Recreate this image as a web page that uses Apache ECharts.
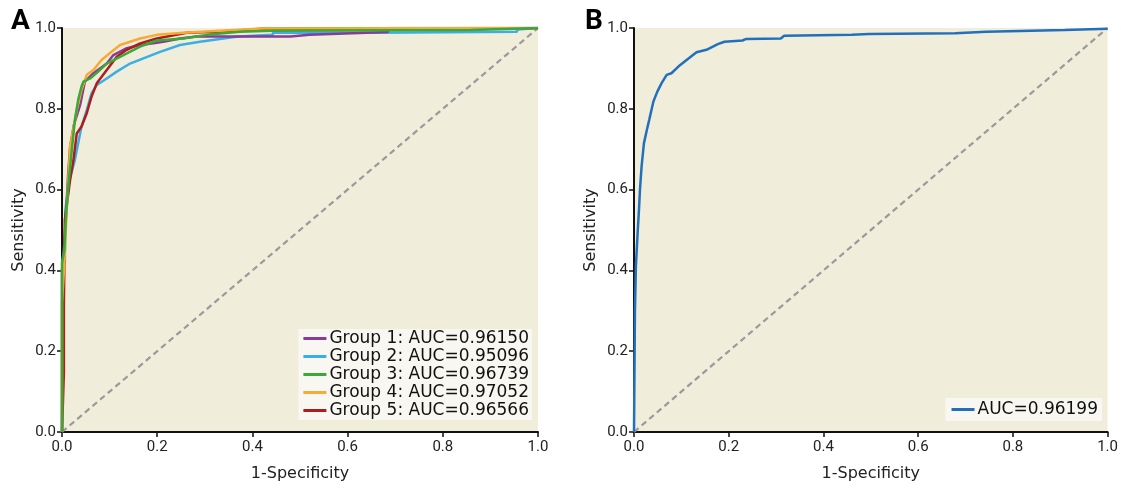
<!DOCTYPE html>
<html>
<head>
<meta charset="utf-8">
<script src="https://cdn.jsdelivr.net/npm/echarts@6/dist/echarts.min.js"></script>
<style>
  html, body { margin: 0; padding: 0; background: #fff; }
  #chart { width: 1121px; height: 488px; }
</style>
</head>
<body>
<div id="chart"></div>
<script>
// ROC points: [1-specificity, sensitivity]
var groupNames = ['Group 1: AUC=0.96150', 'Group 2: AUC=0.95096', 'Group 3: AUC=0.96739', 'Group 4: AUC=0.97052', 'Group 5: AUC=0.96566']
var totalName = 'AUC=0.96199'
var tickLabels = ['0.0', '0.2', '0.4', '0.6', '0.8', '1.0']

var group1 = [[0, 0], [0, 0.40], [0.005, 0.47], [0.009, 0.55], [0.013, 0.64], [0.017, 0.706], [0.025, 0.76], [0.038, 0.809], [0.048, 0.867], [0.066, 0.888], [0.094, 0.912], [0.108, 0.933], [0.136, 0.95], [0.164, 0.958], [0.192, 0.962], [0.213, 0.966], [0.248, 0.974], [0.283, 0.979], [0.48, 0.979], [0.48, 0.983], [0.52, 0.983], [0.52, 0.987], [0.685, 0.99], [0.685, 1], [1, 1]]
var group2 = [[0, 0], [0.002, 0.40], [0.006, 0.42], [0.007, 0.55], [0.015, 0.62], [0.027, 0.673], [0.034, 0.715], [0.041, 0.756], [0.052, 0.797], [0.062, 0.838], [0.073, 0.859], [0.094, 0.875], [0.115, 0.892], [0.143, 0.912], [0.171, 0.925], [0.206, 0.941], [0.248, 0.958], [0.29, 0.966], [0.339, 0.974], [0.37, 0.979], [0.37, 0.983], [0.443, 0.983], [0.443, 0.988], [0.653, 0.988], [0.653, 0.991], [0.956, 0.991], [0.956, 0.996], [1, 1]]
var group3 = [[0, 0], [0, 0.42], [0.005, 0.45], [0.008, 0.525], [0.013, 0.607], [0.020, 0.69], [0.027, 0.772], [0.034, 0.822], [0.041, 0.855], [0.045, 0.867], [0.059, 0.875], [0.076, 0.892], [0.094, 0.912], [0.129, 0.933], [0.164, 0.954], [0.199, 0.969], [0.255, 0.974], [0.304, 0.983], [0.374, 0.991], [0.44, 0.993], [0.86, 0.995], [0.86, 0.998], [1, 1]]
var group4 = [[0, 0], [0, 0.32], [0.005, 0.42], [0.010, 0.55], [0.017, 0.706], [0.031, 0.797], [0.041, 0.847], [0.052, 0.884], [0.066, 0.896], [0.083, 0.921], [0.104, 0.941], [0.122, 0.958], [0.143, 0.966], [0.164, 0.974], [0.199, 0.983], [0.255, 0.988], [0.42, 0.999], [0.42, 1], [1, 1]]
var group5 = [[0, 0], [0.004, 0.15], [0.004, 0.32], [0.006, 0.525], [0.017, 0.624], [0.024, 0.673], [0.031, 0.739], [0.041, 0.756], [0.052, 0.789], [0.062, 0.83], [0.073, 0.863], [0.094, 0.896], [0.115, 0.929], [0.136, 0.946], [0.164, 0.962], [0.199, 0.974], [0.262, 0.988], [0.325, 0.991], [0.325, 0.995], [0.381, 0.995], [0.381, 0.998], [0.42, 0.998], [0.42, 1], [1, 1]]
var totalRoc = [[0, 0], [0.002, 0.30], [0.004, 0.30], [0.004, 0.41], [0.008, 0.41], [0.008, 0.50], [0.0105, 0.55], [0.0126, 0.60], [0.016, 0.657], [0.021, 0.715], [0.027, 0.747], [0.032, 0.772], [0.041, 0.818], [0.049, 0.842], [0.058, 0.863], [0.069, 0.884], [0.079, 0.888], [0.097, 0.908], [0.111, 0.921], [0.132, 0.94], [0.153, 0.946], [0.177, 0.96], [0.191, 0.966], [0.229, 0.969], [0.237, 0.973], [0.31, 0.974], [0.317, 0.981], [0.46, 0.983], [0.496, 0.985], [0.678, 0.987], [0.744, 0.991], [0.909, 0.995], [1, 0.998]]
var chanceLine = [[0, 0], [1, 1]]

var groupColors = ['#8a3a98', '#3aaee6', '#3aa935', '#f5ab35', '#b01c1e']
var totalColor = '#2270bb'

var tickFont = 'Roboto, sans-serif'
var textFont = '"DejaVu Sans", sans-serif'

function xAxisOf(gridIndex) {
  return {
    type: 'value', gridIndex: gridIndex, min: 0, max: 1, interval: 0.2,
    name: '1-Specificity', nameLocation: 'middle', nameGap: 34,
    nameTextStyle: { fontFamily: textFont, fontSize: 16, color: '#222' },
    axisLine: { show: true, onZero: false, lineStyle: { color: '#111', width: 2 } },
    axisTick: { show: true, length: 5, lineStyle: { color: '#111', width: 1.5 } },
    axisLabel: { fontFamily: tickFont, fontSize: 15, color: '#222', margin: 8,
      formatter: function (v) { return tickLabels[Math.round(v * 5)] } },
    splitLine: { show: false }
  }
}

function yAxisOf(gridIndex) {
  return {
    type: 'value', gridIndex: gridIndex, min: 0, max: 1, interval: 0.2,
    name: 'Sensitivity', nameLocation: 'middle', nameGap: 35,
    nameTextStyle: { fontFamily: textFont, fontSize: 16, color: '#222' },
    axisLine: { show: true, onZero: false, lineStyle: { color: '#111', width: 2 } },
    axisTick: { show: true, length: 5, lineStyle: { color: '#111', width: 1.5 } },
    axisLabel: { fontFamily: tickFont, fontSize: 15, color: '#222', margin: 6,
      formatter: function (v) { return tickLabels[Math.round(v * 5)] } },
    splitLine: { show: false }
  }
}

function rocSeries(name, data, color, idx) {
  return {
    name: name, type: 'line', data: data, xAxisIndex: idx, yAxisIndex: idx,
    showSymbol: false, symbol: 'none', silent: true, animation: false,
    lineStyle: { color: color, width: 2.5 }, itemStyle: { color: color }
  }
}

function chanceSeries(idx) {
  return {
    type: 'line', data: chanceLine, xAxisIndex: idx, yAxisIndex: idx,
    showSymbol: false, symbol: 'none', silent: true, animation: false, z: 1,
    lineStyle: { color: '#9a9a9a', width: 2.2, type: [6, 4] }
  }
}

var legendBase = {
  orient: 'vertical', backgroundColor: '#f8f7f1', padding: [1, 3, 1, 5],
  itemGap: 1, itemWidth: 23, itemHeight: 3, icon: 'rect',
  textStyle: { fontFamily: textFont, fontSize: 17, color: '#111', padding: [0, 0, 0, -2] }
}

var myChart = echarts.init(document.getElementById('chart'))
myChart.setOption({
  animation: false,
  backgroundColor: '#fff',
  grid: [
    { left: 62, right: 583, top: 28, bottom: 56, show: true, backgroundColor: '#f1eddb', borderWidth: 0 },
    { left: 634, right: 11, top: 28, bottom: 56, show: true, backgroundColor: '#f1eddb', borderWidth: 0 }
  ],
  xAxis: [xAxisOf(0), xAxisOf(1)],
  yAxis: [yAxisOf(0), yAxisOf(1)],
  legend: [
    Object.assign({}, legendBase, { data: groupNames, right: 589, bottom: 68 }),
    Object.assign({}, legendBase, { data: [totalName], right: 19, bottom: 67, padding: [3, 4, 3, 6] })
  ],
  graphic: [
    { type: 'text', left: 11, top: 8, style: { text: 'A', font: 'bold 28px ' + tickFont, fill: '#000' } },
    { type: 'text', left: 585, top: 8, style: { text: 'B', font: 'bold 28px ' + tickFont, fill: '#000' } }
  ],
  series: [
    chanceSeries(0),
    rocSeries(groupNames[1], group2, groupColors[1], 0),
    rocSeries(groupNames[0], group1, groupColors[0], 0),
    rocSeries(groupNames[4], group5, groupColors[4], 0),
    rocSeries(groupNames[3], group4, groupColors[3], 0),
    rocSeries(groupNames[2], group3, groupColors[2], 0),
    chanceSeries(1),
    rocSeries(totalName, totalRoc, totalColor, 1)
  ]
})
</script>
</body>
</html>
